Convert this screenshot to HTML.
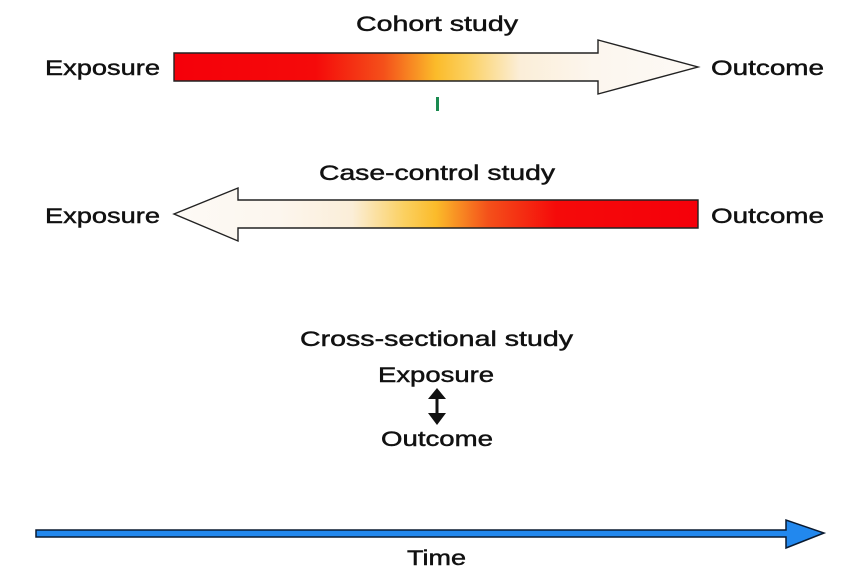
<!DOCTYPE html>
<html><head><style>html,body{margin:0;padding:0;background:#fff}svg{display:block}</style></head>
<body>
<svg width="858" height="586" viewBox="0 0 858 586" xmlns="http://www.w3.org/2000/svg">
<defs>
<linearGradient id="g1" gradientUnits="userSpaceOnUse" x1="174" y1="0" x2="698" y2="0">
<stop offset="0" stop-color="#f5000a"/>
<stop offset="0.27" stop-color="#f50a0a"/>
<stop offset="0.4" stop-color="#f4501a"/>
<stop offset="0.5" stop-color="#fbbb2a"/>
<stop offset="0.56" stop-color="#fbd060"/>
<stop offset="0.66" stop-color="#fbeed8"/>
<stop offset="0.8" stop-color="#fcf6ee"/>
<stop offset="1" stop-color="#fdfaf6"/>
</linearGradient>
<linearGradient id="g2" gradientUnits="userSpaceOnUse" x1="698" y1="0" x2="174" y2="0">
<stop offset="0" stop-color="#f5000a"/>
<stop offset="0.27" stop-color="#f50a0a"/>
<stop offset="0.4" stop-color="#f4501a"/>
<stop offset="0.5" stop-color="#fbbb2a"/>
<stop offset="0.56" stop-color="#fbd060"/>
<stop offset="0.66" stop-color="#fbeed8"/>
<stop offset="0.8" stop-color="#fcf6ee"/>
<stop offset="1" stop-color="#fdfaf6"/>
</linearGradient>
</defs>
<g font-family="Liberation Sans, sans-serif" font-size="21" fill="#111" stroke="#111" stroke-width="0.45">
<text x="356" y="31" textLength="162" lengthAdjust="spacingAndGlyphs">Cohort study</text>
<text x="45" y="75" textLength="115" lengthAdjust="spacingAndGlyphs">Exposure</text>
<text x="711" y="75" textLength="113" lengthAdjust="spacingAndGlyphs">Outcome</text>
<text x="319" y="180" textLength="236" lengthAdjust="spacingAndGlyphs">Case-control study</text>
<text x="45" y="223" textLength="115" lengthAdjust="spacingAndGlyphs">Exposure</text>
<text x="711" y="223" textLength="113" lengthAdjust="spacingAndGlyphs">Outcome</text>
<text x="300" y="346" textLength="273" lengthAdjust="spacingAndGlyphs">Cross-sectional study</text>
<text x="378" y="382" textLength="116" lengthAdjust="spacingAndGlyphs">Exposure</text>
<text x="381" y="446" textLength="112" lengthAdjust="spacingAndGlyphs">Outcome</text>
<text x="407" y="565" textLength="59" lengthAdjust="spacingAndGlyphs">Time</text>
</g>
<polygon points="174,53 598,53 598,40 698,67 598,94 598,81 174,81" fill="url(#g1)" stroke="#222" stroke-width="1.4"/>
<rect x="436" y="97" width="3" height="14" fill="#1a8a50"/>
<polygon points="698,200 238,200 238,188 174,214 238,241 238,228 698,228" fill="url(#g2)" stroke="#222" stroke-width="1.4"/>
<line x1="437" y1="394" x2="437" y2="418" stroke="#111" stroke-width="3"/>
<polygon points="428,399 446,399 437,388" fill="#111"/>
<polygon points="428,413 446,413 437,425" fill="#111"/>
<polygon points="36,530 786,530 786,520 824,533 786,548 786,537 36,537" fill="#2288ee" stroke="#0a1a30" stroke-width="1.5"/>
</svg>
</body></html>
